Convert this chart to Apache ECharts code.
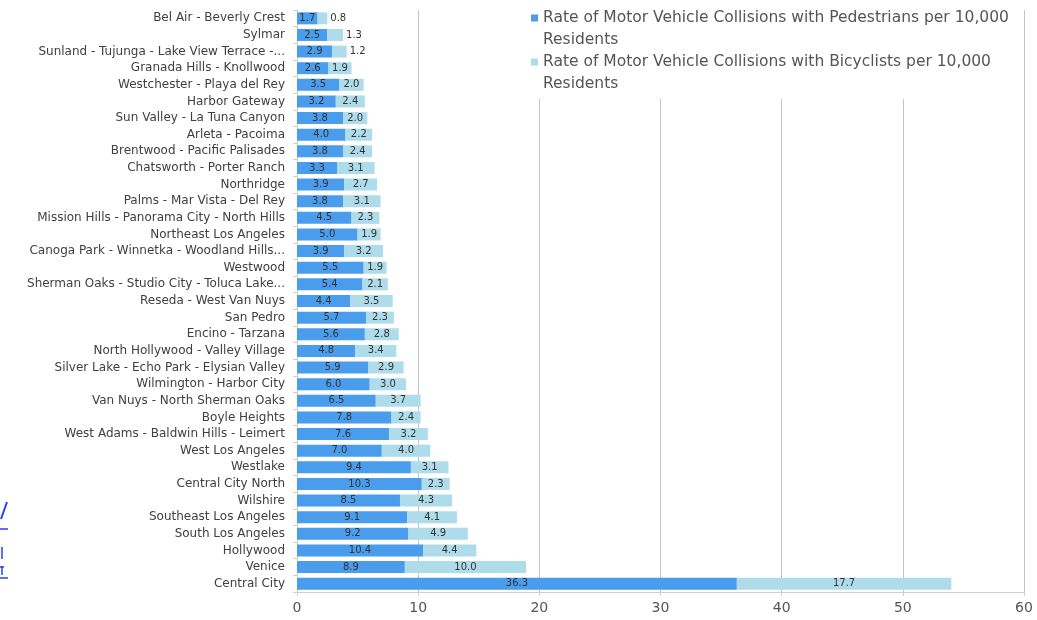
<!DOCTYPE html>
<html>
<head>
<meta charset="utf-8">
<script src="https://cdn.jsdelivr.net/npm/echarts@6/dist/echarts.min.js"></script>
<style>
html,body{margin:0;padding:0;background:#fff;}
#chart{width:1037px;height:620px;}
</style>
</head>
<body>
<div id="chart"></div>
<script>
const categories = [
  "Bel Air - Beverly Crest",
  "Sylmar",
  "Sunland - Tujunga - Lake View Terrace -...",
  "Granada Hills - Knollwood",
  "Westchester - Playa del Rey",
  "Harbor Gateway",
  "Sun Valley - La Tuna Canyon",
  "Arleta - Pacoima",
  "Brentwood - Pacific Palisades",
  "Chatsworth - Porter Ranch",
  "Northridge",
  "Palms - Mar Vista - Del Rey",
  "Mission Hills - Panorama City - North Hills",
  "Northeast Los Angeles",
  "Canoga Park - Winnetka - Woodland Hills...",
  "Westwood",
  "Sherman Oaks - Studio City - Toluca Lake...",
  "Reseda - West Van Nuys",
  "San Pedro",
  "Encino - Tarzana",
  "North Hollywood - Valley Village",
  "Silver Lake - Echo Park - Elysian Valley",
  "Wilmington - Harbor City",
  "Van Nuys - North Sherman Oaks",
  "Boyle Heights",
  "West Adams - Baldwin Hills - Leimert",
  "West Los Angeles",
  "Westlake",
  "Central City North",
  "Wilshire",
  "Southeast Los Angeles",
  "South Los Angeles",
  "Hollywood",
  "Venice",
  "Central City"
];
const pedestrians = [1.7,2.5,2.9,2.6,3.5,3.2,3.8,4.0,3.8,3.3,3.9,3.8,4.5,5.0,3.9,5.5,5.4,4.4,5.7,5.6,4.8,5.9,6.0,6.5,7.8,7.6,7.0,9.4,10.3,8.5,9.1,9.2,10.4,8.9,36.3];
const bicyclists  = [0.8,1.3,1.2,1.9,2.0,2.4,2.0,2.2,2.4,3.1,2.7,3.1,2.3,1.9,3.2,1.9,2.1,3.5,2.3,2.8,3.4,2.9,3.0,3.7,2.4,3.2,4.0,3.1,2.3,4.3,4.1,4.9,4.4,10.0,17.7];
const seriesNames = [
  "Rate of Motor Vehicle Collisions with Pedestrians per 10,000\nResidents",
  "Rate of Motor Vehicle Collisions with Bicyclists per 10,000\nResidents"
];
const xTicks = [0,10,20,30,40,50,60];

const FONT = "'DejaVu Sans', Verdana, sans-serif";
const chart = echarts.init(document.getElementById('chart'));
const fmt = p => Number(p.value).toFixed(1);
const labelCfg = { show: true, position: 'inside', fontSize: 10, color: '#333', fontFamily: FONT, formatter: fmt };
// small bicycle segments: label sits just past the bar end
const bikeData = bicyclists.map(v => v < 1.5
  ? { value: v, label: { position: 'right', distance: 3 } }
  : v);
const legendIcon = 'path://M0,0h7v7h-7z M0,28.9h0.05v0.05h-0.05z';
const LINK = '#2a3cff';
chart.setOption({
  animation: false,
  backgroundColor: '#fff',
  grid: { left: 297, right: 13, top: 10, bottom: 28, containLabel: false },
  legend: {
    orient: 'vertical', left: 525, top: 3,
    backgroundColor: '#fff', padding: [4, 6, 4, 6],
    itemWidth: 7, itemHeight: 29, itemGap: 0, icon: legendIcon,
    textStyle: { fontSize: 15.5, color: '#555', fontFamily: FONT, lineHeight: 22 },
    data: seriesNames
  },
  xAxis: {
    type: 'value', min: 0, max: 60, interval: 10,
    axisLine: { show: true, lineStyle: { color: '#cfcfcf' } },
    axisTick: { show: true, length: 4, lineStyle: { color: '#cfcfcf' } },
    splitLine: { show: true, lineStyle: { color: '#c4c4c4', width: 1 } },
    axisLabel: { fontSize: 14, color: '#555', fontFamily: FONT, margin: 9,
      formatter: v => xTicks.includes(v) ? String(v) : '' }
  },
  yAxis: {
    type: 'category', inverse: true, data: categories,
    axisLine: { show: true, lineStyle: { color: '#cfcfcf' } },
    axisTick: { show: true, length: 4, lineStyle: { color: '#cfcfcf' } },
    axisLabel: { fontSize: 12, color: '#404040', fontFamily: FONT, margin: 12 }
  },
  graphic: [
    { type: 'line', shape: { x1: 1, y1: 519, x2: 7, y2: 502 }, style: { stroke: LINK, lineWidth: 2 } },
    { type: 'line', shape: { x1: 0, y1: 529, x2: 8, y2: 529 }, style: { stroke: LINK, lineWidth: 1.5 } },
    { type: 'line', shape: { x1: 2, y1: 547, x2: 2, y2: 559 }, style: { stroke: LINK, lineWidth: 1.5 } },
    { type: 'line', shape: { x1: 0, y1: 567, x2: 4, y2: 567 }, style: { stroke: LINK, lineWidth: 1.5 } },
    { type: 'line', shape: { x1: 2, y1: 566, x2: 2, y2: 575 }, style: { stroke: LINK, lineWidth: 1.5 } },
    { type: 'line', shape: { x1: 0, y1: 578, x2: 8, y2: 578 }, style: { stroke: LINK, lineWidth: 1.5 } }
  ],
  series: [
    { name: seriesNames[0], type: 'bar', stack: 'a', data: pedestrians, barWidth: 12,
      itemStyle: { color: '#4a9ced' }, label: labelCfg },
    { name: seriesNames[1], type: 'bar', stack: 'a', data: bikeData, barWidth: 12,
      itemStyle: { color: '#aedcea' }, label: labelCfg }
  ]
});
</script>
</body>
</html>
